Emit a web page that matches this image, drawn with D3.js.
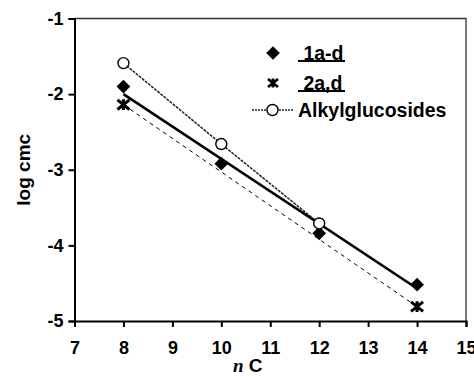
<!DOCTYPE html>
<meta charset="utf-8">
<head>
	<script src="https://d3js.org/d3.v7.min.js"></script>
	<style>
		body { margin: 0; background: #fff; }
		text { font-family: "Liberation Sans", Arial, sans-serif; font-weight: bold; }
	</style>
</head>
<body>
<div id="D3_Chart"></div>
<script>
	'use strict';
	// chart data
	var nC_1 = [8, 10, 12, 14];
	var logcmc_1 = [-1.90, -2.92, -3.84, -4.52];
	var fit1_x = [8, 14];
	var fit1_y = [-2.00, -4.57];

	var nC_2 = [8, 14];
	var logcmc_2 = [-2.14, -4.81];

	var nC_glu = [8, 10, 12];
	var logcmc_glu = [-1.59, -2.66, -3.71];

	var xTicks = [7, 8, 9, 10, 11, 12, 13, 14, 15];
	var yTicks = [-1, -2, -3, -4, -5];
	var legendLabels = [" 1a-d", " 2a,d", "Alkylglucosides"];

	var width = 474, height = 377;
	var margin = { top: 18.5, left: 74.5, right: 8, bottom: 56 };

	var svg = d3.select("#D3_Chart").append("svg")
		.attr("width", width)
		.attr("height", height);

	var x = d3.scaleLinear().domain([7, 15]).range([margin.left, width - margin.right]);
	var y = d3.scaleLinear().domain([-5, -1]).range([height - margin.bottom, margin.top]);

	// frame top / right (thin)
	svg.append("path")
		.attr("d", "M" + x(7) + "," + y(-1) + "H" + x(15) + "V" + y(-5))
		.attr("fill", "none").attr("stroke", "#333").attr("stroke-width", 1.3);

	var xaxis = svg.append("g")
		.attr("transform", "translate(0," + y(-5) + ")")
		.call(d3.axisBottom(x).tickValues(xTicks).tickSize(6).tickPadding(14).tickFormat(d3.format("d")));
	var yaxis = svg.append("g")
		.attr("transform", "translate(" + x(7) + ",0)")
		.call(d3.axisLeft(y).tickValues(yTicks).tickSize(6).tickPadding(5).tickFormat(function(d) { return "-" + Math.abs(d); }));

	[xaxis, yaxis].forEach(function(g) {
		g.select(".domain").attr("stroke", "#000").attr("stroke-width", 2);
		g.selectAll(".tick line").attr("stroke", "#000").attr("stroke-width", 2);
		g.selectAll(".tick text").attr("fill", "#000").style("font-size", "18px").style("font-weight", "bold");
	});
	xaxis.selectAll(".tick text").attr("dy", "0.71em");

	// axis titles
	svg.append("text")
		.attr("transform", "translate(30," + ((y(-1) + y(-5)) / 2) + ") rotate(-90)")
		.attr("text-anchor", "middle")
		.style("font-size", "19px")
		.text("log cmc");

	var xt = svg.append("text")
		.attr("x", 233)
		.attr("y", 372)
		.style("font-size", "19px");
	xt.append("tspan").style("font-family", "Liberation Serif, serif").style("font-style", "italic").text("n");
	xt.append("tspan").text(" C");

	var line = d3.line().x(function(d) { return x(d[0]); }).y(function(d) { return y(d[1]); });

	// alkylglucosides line (thin, dotted)
	svg.append("path")
		.datum(d3.zip(nC_glu, logcmc_glu))
		.attr("d", line)
		.attr("fill", "none").attr("stroke", "#222").attr("stroke-width", 1.5)
		.attr("stroke-dasharray", "3,1");

	// 2a,d dashed line
	svg.append("path")
		.datum(d3.zip(nC_2, logcmc_2))
		.attr("d", line)
		.attr("fill", "none").attr("stroke", "#000").attr("stroke-width", 1)
		.attr("stroke-dasharray", "4,4");

	// 1a-d fit line
	svg.append("path")
		.datum(d3.zip(fit1_x, fit1_y))
		.attr("d", line)
		.attr("fill", "none").attr("stroke", "#000").attr("stroke-width", 2.6);

	var diamond = d3.symbol().type(d3.symbolDiamond2).size(120);
	function starPath(r) {
		return "M" + (-r) + "," + (-r * 0.8) + "L" + r + "," + (r * 0.8) +
			"M" + (-r) + "," + (r * 0.8) + "L" + r + "," + (-r * 0.8) +
			"M0," + (-r * 0.9) + "V" + (r * 0.9);
	}

	svg.selectAll(".dia")
		.data(d3.zip(nC_1, logcmc_1))
		.enter().append("path")
		.attr("class", "dia")
		.attr("transform", function(d) { return "translate(" + x(d[0]) + "," + y(d[1]) + ")"; })
		.attr("d", diamond)
		.attr("fill", "#000");

	svg.selectAll(".star")
		.data(d3.zip(nC_2, logcmc_2))
		.enter().append("path")
		.attr("class", "star")
		.attr("transform", function(d) { return "translate(" + x(d[0]) + "," + y(d[1]) + ")"; })
		.attr("d", starPath(6))
		.attr("fill", "none").attr("stroke", "#000").attr("stroke-width", 3);

	svg.selectAll(".circ")
		.data(d3.zip(nC_glu, logcmc_glu))
		.enter().append("circle")
		.attr("class", "circ")
		.attr("cx", function(d) { return x(d[0]); })
		.attr("cy", function(d) { return y(d[1]); })
		.attr("r", 5.5)
		.attr("fill", "#fff").attr("stroke", "#000").attr("stroke-width", 1.4);

	// legend
	var lg = svg.append("g");
	var rows = [53, 83, 110];
	lg.append("path").attr("transform", "translate(273," + rows[0] + ")").attr("d", diamond).attr("fill", "#000");
	lg.append("path").attr("transform", "translate(273," + rows[1] + ")").attr("d", starPath(5))
		.attr("fill", "none").attr("stroke", "#000").attr("stroke-width", 2.8);
	lg.append("line").attr("x1", 252).attr("x2", 293).attr("y1", rows[2]).attr("y2", rows[2])
		.attr("stroke", "#222").attr("stroke-width", 1.4).attr("stroke-dasharray", "2,1");
	lg.append("circle").attr("cx", 272.5).attr("cy", rows[2]).attr("r", 5.5)
		.attr("fill", "#fff").attr("stroke", "#000").attr("stroke-width", 1.4);

	legendLabels.forEach(function(label, i) {
		lg.append("text")
			.attr("x", 298)
			.attr("y", rows[i] + 6.5)
			.style("font-size", "19.5px")
			.style("white-space", "pre")
			.attr("xml:space", "preserve")
			.text(label);
		if (i < 2) {
			lg.append("line").attr("x1", 298).attr("x2", 345)
				.attr("y1", rows[i] + 8).attr("y2", rows[i] + 8)
				.attr("stroke", "#000").attr("stroke-width", 2);
		}
	});
</script>
</body>
